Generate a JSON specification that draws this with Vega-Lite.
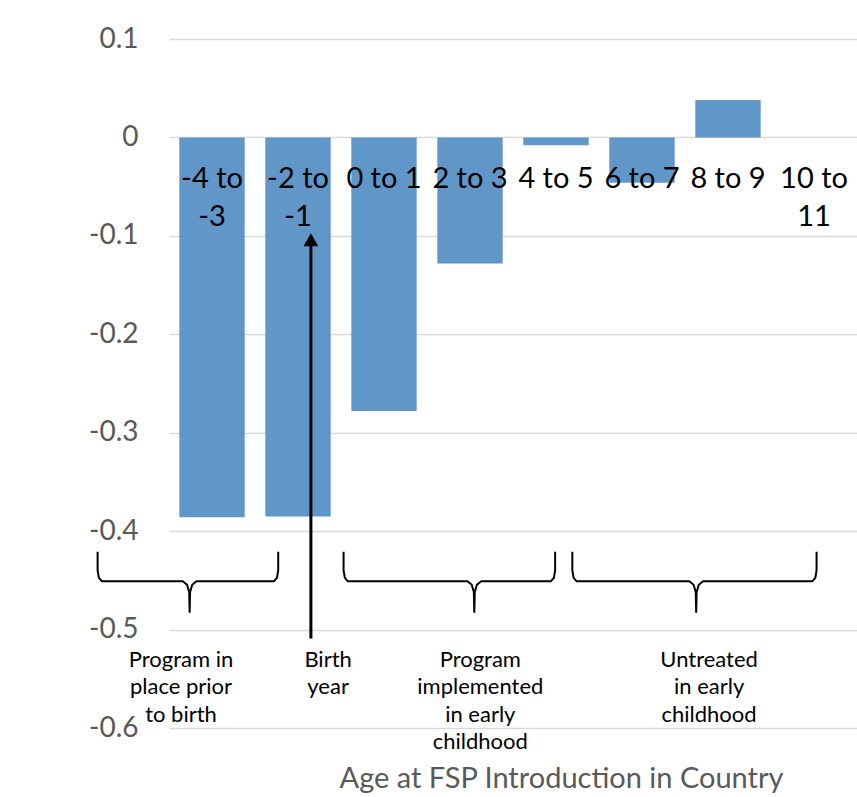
{
  "$schema": "https://vega.github.io/schema/vega-lite/v6.json",
  "autosize": "none",
  "width": 688,
  "height": 689,
  "padding": {"left": 169, "top": 39, "right": 0, "bottom": 69},
  "background": "white",
  "config": {
    "view": {"stroke": null},
    "font": "Lato",
    "axis": {"gridColor": "#d9d9d9", "gridWidth": 1.5}
  },
  "datasets": {
    "bars": [
      {"age": "-4 to -3", "effect": -0.386, "label": ["-4 to", "-3"]},
      {"age": "-2 to -1", "effect": -0.385, "label": ["-2 to", "-1"]},
      {"age": "0 to 1", "effect": -0.278, "label": ["0 to 1"]},
      {"age": "2 to 3", "effect": -0.128, "label": ["2 to 3"]},
      {"age": "4 to 5", "effect": -0.008, "label": ["4 to 5"]},
      {"age": "6 to 7", "effect": -0.046, "label": ["6 to 7"]},
      {"age": "8 to 9", "effect": 0.038, "label": ["8 to 9"]},
      {"age": "10 to 11", "effect": 0, "label": ["10 to", "11"]}
    ],
    "braces": [
      {"brace": 1, "seq": 1, "u": -0.83, "v": -0.421},
      {"brace": 1, "seq": 2, "u": -0.83, "v": -0.44},
      {"brace": 1, "seq": 3, "u": -0.815, "v": -0.4475},
      {"brace": 1, "seq": 4, "u": -0.78, "v": -0.451},
      {"brace": 1, "seq": 5, "u": 0.16, "v": -0.451},
      {"brace": 1, "seq": 6, "u": 0.21, "v": -0.4545},
      {"brace": 1, "seq": 7, "u": 0.235, "v": -0.462},
      {"brace": 1, "seq": 8, "u": 0.24, "v": -0.483},
      {"brace": 1, "seq": 9, "u": 0.245, "v": -0.462},
      {"brace": 1, "seq": 10, "u": 0.27, "v": -0.4545},
      {"brace": 1, "seq": 11, "u": 0.32, "v": -0.451},
      {"brace": 1, "seq": 12, "u": 1.22, "v": -0.451},
      {"brace": 1, "seq": 13, "u": 1.255, "v": -0.4475},
      {"brace": 1, "seq": 14, "u": 1.27, "v": -0.44},
      {"brace": 1, "seq": 15, "u": 1.27, "v": -0.421},
      {"brace": 2, "seq": 1, "u": 2.03, "v": -0.421},
      {"brace": 2, "seq": 2, "u": 2.03, "v": -0.44},
      {"brace": 2, "seq": 3, "u": 2.045, "v": -0.4475},
      {"brace": 2, "seq": 4, "u": 2.08, "v": -0.451},
      {"brace": 2, "seq": 5, "u": 3.47, "v": -0.451},
      {"brace": 2, "seq": 6, "u": 3.52, "v": -0.4545},
      {"brace": 2, "seq": 7, "u": 3.545, "v": -0.462},
      {"brace": 2, "seq": 8, "u": 3.55, "v": -0.483},
      {"brace": 2, "seq": 9, "u": 3.555, "v": -0.462},
      {"brace": 2, "seq": 10, "u": 3.58, "v": -0.4545},
      {"brace": 2, "seq": 11, "u": 3.63, "v": -0.451},
      {"brace": 2, "seq": 12, "u": 4.44, "v": -0.451},
      {"brace": 2, "seq": 13, "u": 4.475, "v": -0.4475},
      {"brace": 2, "seq": 14, "u": 4.49, "v": -0.44},
      {"brace": 2, "seq": 15, "u": 4.49, "v": -0.421},
      {"brace": 3, "seq": 1, "u": 4.69, "v": -0.421},
      {"brace": 3, "seq": 2, "u": 4.69, "v": -0.44},
      {"brace": 3, "seq": 3, "u": 4.705, "v": -0.4475},
      {"brace": 3, "seq": 4, "u": 4.74, "v": -0.451},
      {"brace": 3, "seq": 5, "u": 6.05, "v": -0.451},
      {"brace": 3, "seq": 6, "u": 6.1, "v": -0.4545},
      {"brace": 3, "seq": 7, "u": 6.125, "v": -0.462},
      {"brace": 3, "seq": 8, "u": 6.13, "v": -0.483},
      {"brace": 3, "seq": 9, "u": 6.135, "v": -0.462},
      {"brace": 3, "seq": 10, "u": 6.16, "v": -0.4545},
      {"brace": 3, "seq": 11, "u": 6.21, "v": -0.451},
      {"brace": 3, "seq": 12, "u": 7.48, "v": -0.451},
      {"brace": 3, "seq": 13, "u": 7.515, "v": -0.4475},
      {"brace": 3, "seq": 14, "u": 7.53, "v": -0.44},
      {"brace": 3, "seq": 15, "u": 7.53, "v": -0.421}
    ],
    "notes": [
      {"u": 0.14, "v": -0.5376, "note": ["Program in", "place prior", "to birth"]},
      {"u": 1.85, "v": -0.5376, "note": ["Birth", "year"]},
      {"u": 3.62, "v": -0.5376, "note": ["Program", "implemented", "in early", "childhood"]},
      {"u": 6.28, "v": -0.5376, "note": ["Untreated", "in early", "childhood"]}
    ],
    "arrow": [
      {"u": 1.65, "from": -0.509, "to": -0.104}
    ]
  },
  "layer": [
    {
      "data": {"name": "bars"},
      "layer": [
        {
          "mark": {"type": "bar", "color": "#6096c8"},
          "encoding": {
            "x": {
              "field": "age",
              "type": "nominal",
              "sort": null,
              "scale": {"paddingInner": 0.24, "paddingOuter": 0.12},
              "axis": {
                "title": "Age at FSP Introduction in Country",
                "labels": false,
                "ticks": false,
                "domain": false,
                "grid": false,
                "titleX": 392,
                "titleY": 59,
                "titleAlign": "center",
                "titleBaseline": "alphabetic",
                "titleFont": "Lato",
                "titleFontSize": 29,
                "titleFontWeight": "normal",
                "titleColor": "#595959"
              }
            },
            "y": {
              "field": "effect",
              "type": "quantitative",
              "scale": {"domain": [-0.6, 0.1], "nice": false, "zero": false},
              "axis": {
                "title": null,
                "values": [-0.6, -0.5, -0.4, -0.3, -0.2, -0.1, 0, 0.1],
                "labelExpr": "datum.value == 0 ? '0' : toString(round(datum.value * 10) / 10)",
                "domain": false,
                "ticks": false,
                "labelFont": "Lato",
                "labelFontSize": 28,
                "labelFontWeight": "normal",
                "labelColor": "#595959",
                "labelPadding": 31
              }
            }
          }
        },
        {
          "mark": {"type": "text", "font": "Lato", "fontSize": 29, "color": "black", "baseline": "alphabetic", "align": "center", "dy": 51, "lineHeight": 38},
          "encoding": {
            "x": {"field": "age", "type": "nominal", "sort": null, "scale": {"paddingInner": 0.24, "paddingOuter": 0.12}},
            "y": {"datum": 0, "type": "quantitative", "scale": {"domain": [-0.6, 0.1], "nice": false, "zero": false}},
            "text": {"field": "label"}
          }
        }
      ]
    },
    {
      "layer": [
        {
          "data": {"name": "braces"},
          "mark": {"type": "line", "color": "black", "strokeWidth": 2, "interpolate": "linear"},
          "encoding": {
            "x": {"field": "u", "type": "quantitative", "scale": {"domain": [0, 8], "nice": false, "zero": false}, "axis": null},
            "y": {"field": "v", "type": "quantitative", "scale": {"domain": [-0.6, 0.1], "nice": false, "zero": false}},
            "detail": {"field": "brace"},
            "order": {"field": "seq"}
          }
        },
        {
          "data": {"name": "arrow"},
          "mark": {"type": "rule", "color": "black", "strokeWidth": 3},
          "encoding": {
            "x": {"field": "u", "type": "quantitative", "scale": {"domain": [0, 8], "nice": false, "zero": false}, "axis": null},
            "y": {"field": "from", "type": "quantitative", "scale": {"domain": [-0.6, 0.1], "nice": false, "zero": false}},
            "y2": {"field": "to"}
          }
        },
        {
          "data": {"name": "arrow"},
          "mark": {"type": "point", "shape": "triangle-up", "filled": true, "color": "black", "size": 220, "opacity": 1},
          "encoding": {
            "x": {"field": "u", "type": "quantitative", "scale": {"domain": [0, 8], "nice": false, "zero": false}, "axis": null},
            "y": {"field": "to", "type": "quantitative", "scale": {"domain": [-0.6, 0.1], "nice": false, "zero": false}}
          }
        },
        {
          "data": {"name": "notes"},
          "mark": {"type": "text", "font": "Lato", "fontSize": 22, "color": "black", "baseline": "alphabetic", "align": "center", "lineHeight": 27.5},
          "encoding": {
            "x": {"field": "u", "type": "quantitative", "scale": {"domain": [0, 8], "nice": false, "zero": false}, "axis": null},
            "y": {"field": "v", "type": "quantitative", "scale": {"domain": [-0.6, 0.1], "nice": false, "zero": false}},
            "text": {"field": "note"}
          }
        }
      ]
    }
  ],
  "resolve": {"scale": {"x": "independent"}}
}
